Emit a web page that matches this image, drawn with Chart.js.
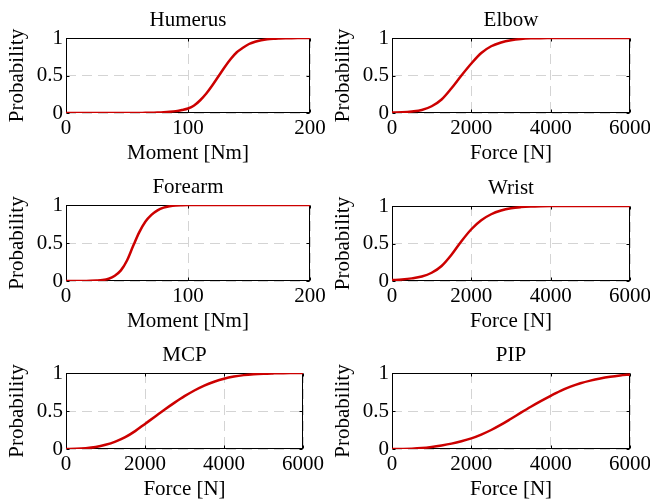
<!DOCTYPE html>
<html>
<head>
<meta charset="utf-8">
<script src="https://cdn.jsdelivr.net/npm/chart.js@4"></script>
<style>
  html, body { margin: 0; padding: 0; background: #fff; overflow: hidden; }
  body { position: relative; width: 650px; height: 501px; }
  canvas { position: absolute; }
</style>
</head>
<body>
<script>
// x values (shared per axis kind)
const momentX = [0, 5, 10, 15, 20, 25, 30, 35, 40, 45, 50, 55, 60, 65, 70, 75, 80, 85, 90, 95,
  100, 105, 110, 115, 120, 125, 130, 135, 140, 145, 150, 155, 160, 165, 170, 175, 180, 185, 190, 195, 200];
const forceX = [0, 250, 500, 750, 1000, 1250, 1500, 1750, 2000, 2250, 2500, 2750, 3000,
  3250, 3500, 3750, 4000, 4250, 4500, 4750, 5000, 5250, 5500, 5750, 6000];

// probabilities
const humerusP = [0, 0, 0, 0, 0, 0, 0, 0, 0, 0, 0, 0, 0.001, 0.002, 0.003, 0.006, 0.01, 0.016, 0.025, 0.04,
  0.06, 0.1, 0.17, 0.26, 0.37, 0.49, 0.61, 0.72, 0.81, 0.87, 0.92, 0.95, 0.97, 0.983, 0.99, 0.994, 0.997, 0.998, 0.999, 1, 1];
const forearmP = [0, 0, 0, 0.001, 0.002, 0.005, 0.012, 0.03, 0.07, 0.14, 0.27, 0.46, 0.64, 0.78, 0.87, 0.93, 0.965, 0.983, 0.993, 0.997,
  0.999, 1, 1, 1, 1, 1, 1, 1, 1, 1, 1, 1, 1, 1, 1, 1, 1, 1, 1, 1, 1];
const elbowP = [0.005, 0.009, 0.02, 0.04, 0.09, 0.18, 0.33, 0.5, 0.66, 0.8, 0.89, 0.94, 0.97,
  0.987, 0.995, 0.998, 0.999, 1, 1, 1, 1, 1, 1, 1, 1];
const wristP = [0.012, 0.02, 0.035, 0.06, 0.11, 0.2, 0.35, 0.53, 0.69, 0.81, 0.89, 0.94, 0.97,
  0.985, 0.993, 0.997, 0.999, 1, 1, 1, 1, 1, 1, 1, 1];
const mcpP = [0, 0.002, 0.01, 0.026, 0.055, 0.097, 0.155, 0.235, 0.33, 0.425, 0.52, 0.61, 0.695,
  0.77, 0.835, 0.885, 0.925, 0.953, 0.972, 0.984, 0.991, 0.995, 0.998, 0.999, 1];
const pipP = [0, 0.001, 0.004, 0.012, 0.027, 0.047, 0.071, 0.102, 0.14, 0.19, 0.25, 0.32, 0.398,
  0.478, 0.556, 0.63, 0.7, 0.765, 0.82, 0.865, 0.9, 0.928, 0.95, 0.967, 0.98];

const titles = ["Humerus", "Elbow", "Forearm", "Wrist", "MCP", "PIP"];
const xLabels = ["Moment [Nm]", "Force [N]", "Moment [Nm]", "Force [N]", "Force [N]", "Force [N]"];
const yTicks = [0, 0.5, 1];
const momentTicks = [0, 100, 200];
const forceTicks = [0, 2000, 4000, 6000];

// plot boxes: [left, top, right, bottom]
const boxes = [
  [66, 38, 310, 113], [392, 38, 630, 113],
  [66, 205, 310, 281], [392, 206, 630, 281],
  [66, 373, 303, 449], [392, 373, 630, 449]
];

const Y_AXIS_W = 66, X_AXIS_H = 54, TITLE_H = 38, RIGHT_PAD = 30;
const FONT = "'Liberation Serif', serif";

Chart.defaults.font.family = FONT;
Chart.defaults.font.size = 21;
Chart.defaults.color = "#000";

// black frame with small inward ticks, plus the title centred over the plot box
const framePlugin = {
  id: "frame",
  beforeDatasetsDraw(chart) {
    const { ctx, chartArea: a, scales } = chart;
    const l = Math.round(a.left) + 0.5, r = Math.round(a.right) - 0.5;
    const t = Math.round(a.top) + 0.5, b = Math.round(a.bottom) - 0.5;
    ctx.save();
    ctx.strokeStyle = "#000";
    ctx.lineWidth = 1;
    ctx.strokeRect(l, t, r - l, b - t);
    ctx.beginPath();
    scales.x.ticks.forEach((tk) => {
      const px = Math.round(scales.x.getPixelForValue(tk.value)) + 0.5;
      ctx.moveTo(px, b); ctx.lineTo(px, b - 3);
      ctx.moveTo(px, t); ctx.lineTo(px, t + 3);
    });
    scales.y.ticks.forEach((tk) => {
      const py = Math.round(scales.y.getPixelForValue(tk.value)) + 0.5;
      ctx.moveTo(l, py); ctx.lineTo(l + 3, py);
      ctx.moveTo(r, py); ctx.lineTo(r - 3, py);
    });
    ctx.stroke();

    ctx.fillStyle = "#000";
    ctx.font = "21px " + FONT;
    ctx.textAlign = "center";
    ctx.textBaseline = "middle";
    ctx.fillText(chart.options.panelTitle, (a.left + a.right) / 2, a.top - 18);
    ctx.restore();
  }
};

function makePanel(i, xs, ys, xMax, xTicks) {
  const [l, t, r, b] = boxes[i];
  const canvas = document.createElement("canvas");
  const w = (r - l) + Y_AXIS_W + RIGHT_PAD;
  const h = (b - t) + TITLE_H + X_AXIS_H;
  canvas.width = w;
  canvas.height = h;
  canvas.style.left = (l - Y_AXIS_W) + "px";
  canvas.style.top = (t - TITLE_H) + "px";
  document.body.appendChild(canvas);

  new Chart(canvas, {
    type: "line",
    data: {
      datasets: [{
        data: xs.map((x, k) => ({ x: x, y: ys[k] })),
        borderColor: "#cc0000",
        borderWidth: 2.5,
        pointRadius: 0,
        cubicInterpolationMode: "monotone",
        fill: false
      }]
    },
    options: {
      panelTitle: titles[i],
      responsive: false,
      animation: false,
      devicePixelRatio: 1,
      layout: { padding: { left: 0, top: TITLE_H, right: RIGHT_PAD, bottom: 0 } },
      plugins: {
        legend: { display: false },
        tooltip: { enabled: false },
        title: { display: false }
      },
      scales: {
        x: {
          type: "linear",
          min: 0,
          max: xMax,
          afterBuildTicks: (s) => { s.ticks = xTicks.map((v) => ({ value: v })); },
          ticks: { padding: 3, maxRotation: 0, autoSkip: false, callback: (v) => String(v) },
          grid: { color: "#d4d4d4", lineWidth: 1, drawTicks: false },
          border: { display: false, dash: [10, 6] },
          title: { display: true, text: xLabels[i], padding: { top: 0, bottom: 1 } },
          afterFit: (s) => {
            s.height = X_AXIS_H;
            s.paddingLeft = 0; s.paddingRight = 0;
          }
        },
        y: {
          min: 0,
          max: 1,
          afterBuildTicks: (s) => { s.ticks = yTicks.map((v) => ({ value: v })); },
          ticks: { padding: 3, callback: (v) => String(v) },
          grid: { color: "#d4d4d4", lineWidth: 1, drawTicks: false },
          border: { display: false, dash: [10, 6] },
          title: { display: true, text: "Probability", padding: { top: 5, bottom: 0 } },
          afterFit: (s) => {
            s.width = Y_AXIS_W;
            s.paddingTop = 0; s.paddingBottom = 0;
          }
        }
      }
    },
    plugins: [framePlugin]
  });
}

makePanel(0, momentX, humerusP, 200, momentTicks);
makePanel(1, forceX, elbowP, 6000, forceTicks);
makePanel(2, momentX, forearmP, 200, momentTicks);
makePanel(3, forceX, wristP, 6000, forceTicks);
makePanel(4, forceX, mcpP, 6000, forceTicks);
makePanel(5, forceX, pipP, 6000, forceTicks);
</script>
</body>
</html>
